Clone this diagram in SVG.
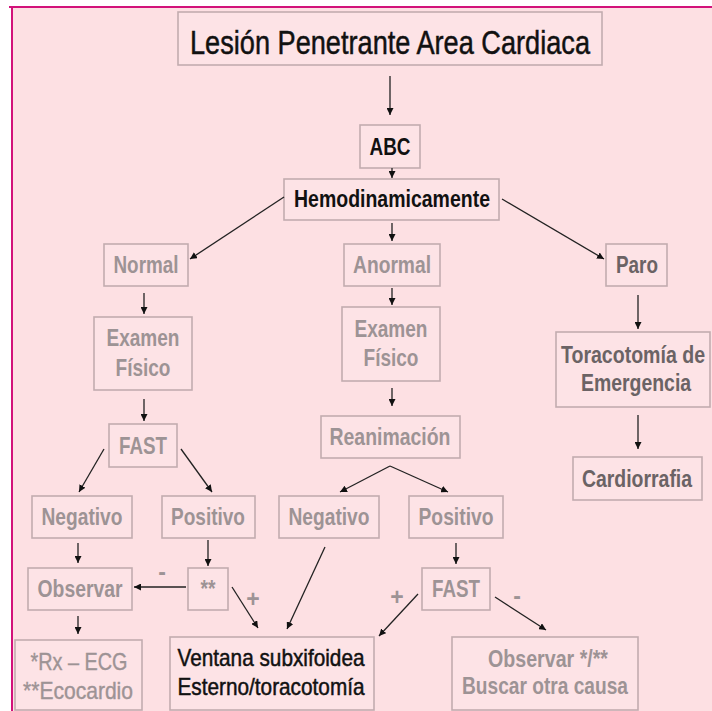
<svg xmlns="http://www.w3.org/2000/svg" width="712" height="711" viewBox="0 0 712 711">
<defs>
<marker id="ah" viewBox="0 0 8 8" refX="8" refY="4" markerWidth="7" markerHeight="7" markerUnits="userSpaceOnUse" orient="auto">
<path d="M0,0 L8,4 L0,8 z" fill="#111"/>
</marker>
<style>
.box{fill:#fde3e6;stroke:#c2acaf;stroke-width:1.6}
.t{font-family:"Liberation Sans Narrow","Liberation Sans",Arial,sans-serif;font-size:24px;font-weight:bold;text-anchor:middle}
.lg{fill:#9d9395}
.dg{fill:#6b6365}
.bk{fill:#111}
.lbl{font-family:"Liberation Sans Narrow","Liberation Sans",Arial,sans-serif;font-size:23px;font-weight:bold;fill:#9d9395;text-anchor:middle}
.c line{stroke:#222;stroke-width:1.3;fill:none;marker-end:url(#ah)}
</style>
</defs>
<rect x="0" y="0" width="712" height="711" fill="#ffffff"/>
<rect x="12" y="7" width="700" height="704" fill="#fde0e3"/>
<line x1="9" y1="7" x2="712" y2="7" stroke="#d2127a" stroke-width="2"/>
<line x1="12" y1="6" x2="12" y2="711" stroke="#d2127a" stroke-width="2"/>

<g id="title">
<rect x="178" y="12" width="424" height="53" class="box" stroke="#b9a8aa"/>
<text x="390" y="54" class="t bk" style="font-size:34px;font-weight:normal" stroke="#111" stroke-width="0.5" textLength="400" lengthAdjust="spacingAndGlyphs">Lesión Penetrante Area Cardiaca</text>
</g>
<g id="abc">
<rect x="360" y="125" width="60" height="43" class="box"/>
<text x="390" y="155" class="t bk" textLength="41" lengthAdjust="spacingAndGlyphs">ABC</text>
</g>
<g id="hemo">
<rect x="284" y="179" width="215" height="41" class="box"/>
<text x="392" y="207" class="t bk" textLength="196" lengthAdjust="spacingAndGlyphs">Hemodinamicamente</text>
</g>
<g id="normal">
<rect x="104" y="244" width="84" height="42" class="box"/>
<text x="146" y="273" class="t lg" textLength="65" lengthAdjust="spacingAndGlyphs">Normal</text>
</g>
<g id="anormal">
<rect x="344" y="244" width="96" height="42" class="box"/>
<text x="392" y="273" class="t lg" textLength="78" lengthAdjust="spacingAndGlyphs">Anormal</text>
</g>
<g id="paro">
<rect x="606" y="244" width="61" height="42" class="box"/>
<text x="637" y="273" class="t dg" textLength="42" lengthAdjust="spacingAndGlyphs">Paro</text>
</g>
<g id="examen1">
<rect x="94" y="317" width="98" height="73" class="box"/>
<text x="143" y="346" class="t lg" textLength="73" lengthAdjust="spacingAndGlyphs">Examen</text>
<text x="143" y="376" class="t lg" textLength="55" lengthAdjust="spacingAndGlyphs">Físico</text>
</g>
<g id="examen2">
<rect x="342" y="307" width="98" height="74" class="box"/>
<text x="391" y="337" class="t lg" textLength="73" lengthAdjust="spacingAndGlyphs">Examen</text>
<text x="391" y="366" class="t lg" textLength="55" lengthAdjust="spacingAndGlyphs">Físico</text>
</g>
<g id="toracotomia">
<rect x="556" y="332" width="154" height="75" class="box"/>
<text x="0" y="363" class="t dg" transform="translate(633,0) scale(0.815,1)">Toracotomía de</text>
<text x="0" y="391" class="t dg" transform="translate(636,0) scale(0.81,1)">Emergencia</text>
</g>
<g id="fast1">
<rect x="109" y="424" width="68" height="43" class="box"/>
<text x="143" y="454" class="t lg" textLength="48" lengthAdjust="spacingAndGlyphs">FAST</text>
</g>
<g id="reanimacion">
<rect x="321" y="416" width="139" height="42" class="box"/>
<text x="390" y="445" class="t lg" textLength="121" lengthAdjust="spacingAndGlyphs">Reanimación</text>
</g>
<g id="cardiorrafia">
<rect x="573" y="457" width="129" height="43" class="box"/>
<text x="0" y="487" class="t dg" transform="translate(637,0) scale(0.81,1)">Cardiorrafia</text>
</g>
<g id="negativo1">
<rect x="32" y="496" width="100" height="42" class="box"/>
<text x="82" y="525" class="t lg" textLength="81" lengthAdjust="spacingAndGlyphs">Negativo</text>
</g>
<g id="positivo1">
<rect x="162" y="496" width="93" height="42" class="box"/>
<text x="208" y="525" class="t lg" textLength="74" lengthAdjust="spacingAndGlyphs">Positivo</text>
</g>
<g id="negativo2">
<rect x="279" y="496" width="100" height="42" class="box"/>
<text x="329" y="525" class="t lg" textLength="81" lengthAdjust="spacingAndGlyphs">Negativo</text>
</g>
<g id="positivo2">
<rect x="409" y="496" width="94" height="42" class="box"/>
<text x="456" y="525" class="t lg" textLength="75" lengthAdjust="spacingAndGlyphs">Positivo</text>
</g>
<g id="observar1">
<rect x="28" y="568" width="104" height="42" class="box"/>
<text x="80" y="597" class="t lg" textLength="85" lengthAdjust="spacingAndGlyphs">Observar</text>
</g>
<g id="dobleast">
<rect x="188" y="568" width="40" height="42" class="box"/>
<text x="208" y="597" class="t lg" textLength="15" lengthAdjust="spacingAndGlyphs">**</text>
</g>
<g id="fast2">
<rect x="422" y="568" width="68" height="42" class="box"/>
<text x="456" y="597" class="t lg" textLength="48" lengthAdjust="spacingAndGlyphs">FAST</text>
</g>
<g id="rxecg">
<rect x="15" y="640" width="127" height="70" class="box"/>
<text x="79" y="670" class="t lg" style="font-weight:normal" stroke="#9d9395" stroke-width="0.4" textLength="97" lengthAdjust="spacingAndGlyphs">*Rx – ECG</text>
<text x="78" y="699" class="t lg" style="font-weight:normal" stroke="#9d9395" stroke-width="0.4" textLength="110" lengthAdjust="spacingAndGlyphs">**Ecocardio</text>
</g>
<g id="ventana">
<rect x="170" y="637" width="204" height="73" class="box"/>
<text x="271" y="666" class="t bk" style="font-weight:normal" stroke="#111" stroke-width="0.5" textLength="187" lengthAdjust="spacingAndGlyphs">Ventana subxifoidea</text>
<text x="271" y="695" class="t bk" style="font-weight:normal" stroke="#111" stroke-width="0.5" textLength="187" lengthAdjust="spacingAndGlyphs">Esterno/toracotomía</text>
</g>
<g id="observar2">
<rect x="452" y="637" width="186" height="73" class="box"/>
<text x="548" y="667" class="t lg" textLength="120" lengthAdjust="spacingAndGlyphs">Observar */**</text>
<text x="545" y="694" class="t lg" textLength="166" lengthAdjust="spacingAndGlyphs">Buscar otra causa</text>
</g>

<g id="connectors" class="c">
<line x1="390" y1="76" x2="390" y2="115"/>
<line x1="392" y1="168" x2="392" y2="178"/>
<line x1="284" y1="197" x2="190" y2="259"/>
<line x1="392" y1="223" x2="392" y2="241"/>
<line x1="502" y1="199" x2="604" y2="259"/>
<line x1="638" y1="295" x2="638" y2="329"/>
<line x1="638" y1="415" x2="638" y2="449"/>
<line x1="144" y1="293" x2="144" y2="314"/>
<line x1="144" y1="399" x2="144" y2="421"/>
<line x1="104" y1="449" x2="79" y2="492"/>
<line x1="181" y1="449" x2="212" y2="492"/>
<line x1="392" y1="288" x2="392" y2="305"/>
<line x1="392" y1="388" x2="392" y2="406"/>
<line x1="390" y1="466" x2="340" y2="492"/>
<line x1="390" y1="466" x2="448" y2="492"/>
<line x1="78" y1="543" x2="78" y2="563"/>
<line x1="208" y1="540" x2="208" y2="566"/>
<line x1="186" y1="587" x2="134" y2="587"/>
<line x1="232" y1="587" x2="258" y2="628"/>
<line x1="325" y1="547" x2="287" y2="629"/>
<line x1="78" y1="616" x2="78" y2="634"/>
<line x1="456" y1="543" x2="456" y2="564"/>
<line x1="418" y1="594" x2="379" y2="636"/>
<line x1="495" y1="597" x2="546" y2="630"/>
</g>
<g id="labels">
<text x="162" y="580" class="lbl">-</text>
<text x="253" y="607" class="lbl">+</text>
<text x="397" y="605" class="lbl">+</text>
<text x="517" y="604" class="lbl">-</text>
</g>
</svg>
